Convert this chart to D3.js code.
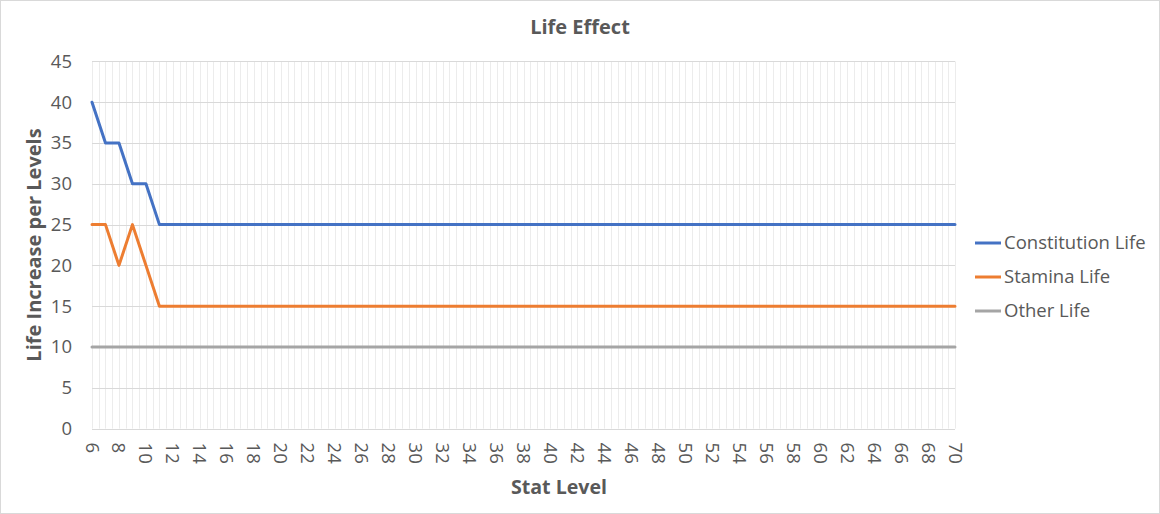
<!DOCTYPE html>
<html><head><meta charset="utf-8">
<script src="https://cdn.jsdelivr.net/npm/d3@7"></script>
<style>
html,body{margin:0;padding:0;background:#fff;}
svg{display:block;font-family:"Open Sans","Noto Sans",sans-serif;}
</style></head>
<body>
<svg id="chart" width="1160" height="514"></svg>
<script>
const levels = d3.range(6, 71);
const constitutionLife = [40,35,35,30,30,25,25,25,25,25,25,25,25,25,25,25,25,25,25,25,25,25,25,25,25,25,25,25,25,25,25,25,25,25,25,25,25,25,25,25,25,25,25,25,25,25,25,25,25,25,25,25,25,25,25,25,25,25,25,25,25,25,25,25,25];
const staminaLife = [25,25,20,25,20,15,15,15,15,15,15,15,15,15,15,15,15,15,15,15,15,15,15,15,15,15,15,15,15,15,15,15,15,15,15,15,15,15,15,15,15,15,15,15,15,15,15,15,15,15,15,15,15,15,15,15,15,15,15,15,15,15,15,15,15];
const otherLife = levels.map(() => 10);
const seriesNames = ["Constitution Life","Stamina Life","Other Life"];
const seriesColors = ["#4472C4","#ED7D31","#A5A5A5"];
const yTicks = [0,5,10,15,20,25,30,35,40,45];
const xTickLabels = levels.filter(d => d % 2 === 0);

(function(){
const svg = d3.select("#chart");
const W = 1160, H = 514;
svg.append("rect").attr("x",0.5).attr("y",0.5).attr("width",W-1).attr("height",H-1)
  .attr("fill","#fff").attr("stroke","#d9d9d9");

const pL = 92, pR = 955, pT = 61.4, pB = 428.6;
const x = d3.scaleLinear().domain([6,70]).range([pL,pR]);
const y = d3.scaleLinear().domain([0,45]).range([pB,pT]);

const vgrid = d3.range(6, 70.01, 0.5);
svg.append("g").selectAll("line").data(vgrid).join("line")
  .attr("x1",d=>Math.round(x(d))+0.5).attr("x2",d=>Math.round(x(d))+0.5)
  .attr("y1",pT).attr("y2",pB)
  .attr("stroke","#ececec").attr("stroke-width",1);

svg.append("g").selectAll("line").data(yTicks.filter(d=>d>0)).join("line")
  .attr("x1",pL).attr("x2",pR)
  .attr("y1",d=>Math.round(y(d))+0.5).attr("y2",d=>Math.round(y(d))+0.5)
  .attr("stroke","#d9d9d9").attr("stroke-width",1);

svg.append("line").attr("x1",pL).attr("x2",pR)
  .attr("y1",Math.round(pB)+0.5).attr("y2",Math.round(pB)+0.5)
  .attr("stroke","#d9d9d9").attr("stroke-width",1);

svg.append("g").selectAll("text").data(yTicks).join("text")
  .attr("x",72).attr("y",d=>y(d)).attr("dy","0.35em")
  .attr("text-anchor","end").attr("fill","#595959")
  .attr("font-size",18.5).text(d=>d);

svg.append("g").selectAll("text").data(xTickLabels).join("text")
  .attr("transform",d=>`translate(${x(d)},${pB+14}) rotate(90)`)
  .attr("dy","0.35em").attr("text-anchor","start")
  .attr("fill","#595959").attr("font-size",18.5).text(d=>d);

const allSeries = [constitutionLife, staminaLife, otherLife];
const line = d3.line().x((d,i)=>x(levels[i])).y(d=>y(d));
[2,1,0].forEach(k=>{
  svg.append("path").datum(allSeries[k]).attr("d",line)
    .attr("fill","none").attr("stroke",seriesColors[k]).attr("stroke-width",3)
    .attr("stroke-linejoin","round").attr("stroke-linecap","round");
});

svg.append("text").attr("x",580).attr("y",27).attr("dy","0.35em")
  .attr("text-anchor","middle").attr("font-weight","bold").attr("font-size",20)
  .attr("fill","#595959").text("Life Effect");

svg.append("text").attr("x",559).attr("y",487).attr("dy","0.35em")
  .attr("text-anchor","middle").attr("font-weight","bold").attr("font-size",19.6)
  .attr("fill","#595959").text("Stat Level");
svg.append("text").attr("transform","translate(34,245) rotate(-90)").attr("dy","0.35em")
  .attr("text-anchor","middle").attr("font-weight","bold").attr("font-size",20)
  .attr("fill","#595959").text("Life Increase per Levels");

const lg = svg.append("g");
seriesNames.forEach((name,i)=>{
  const ly = 243 + i*34;
  lg.append("line").attr("x1",975).attr("x2",1001).attr("y1",ly).attr("y2",ly)
    .attr("stroke",seriesColors[i]).attr("stroke-width",3);
  lg.append("text").attr("x",1004).attr("y",ly).attr("dy","0.35em")
    .attr("fill","#595959").attr("font-size",18.5).text(name);
});
})();
</script>
</body></html>
